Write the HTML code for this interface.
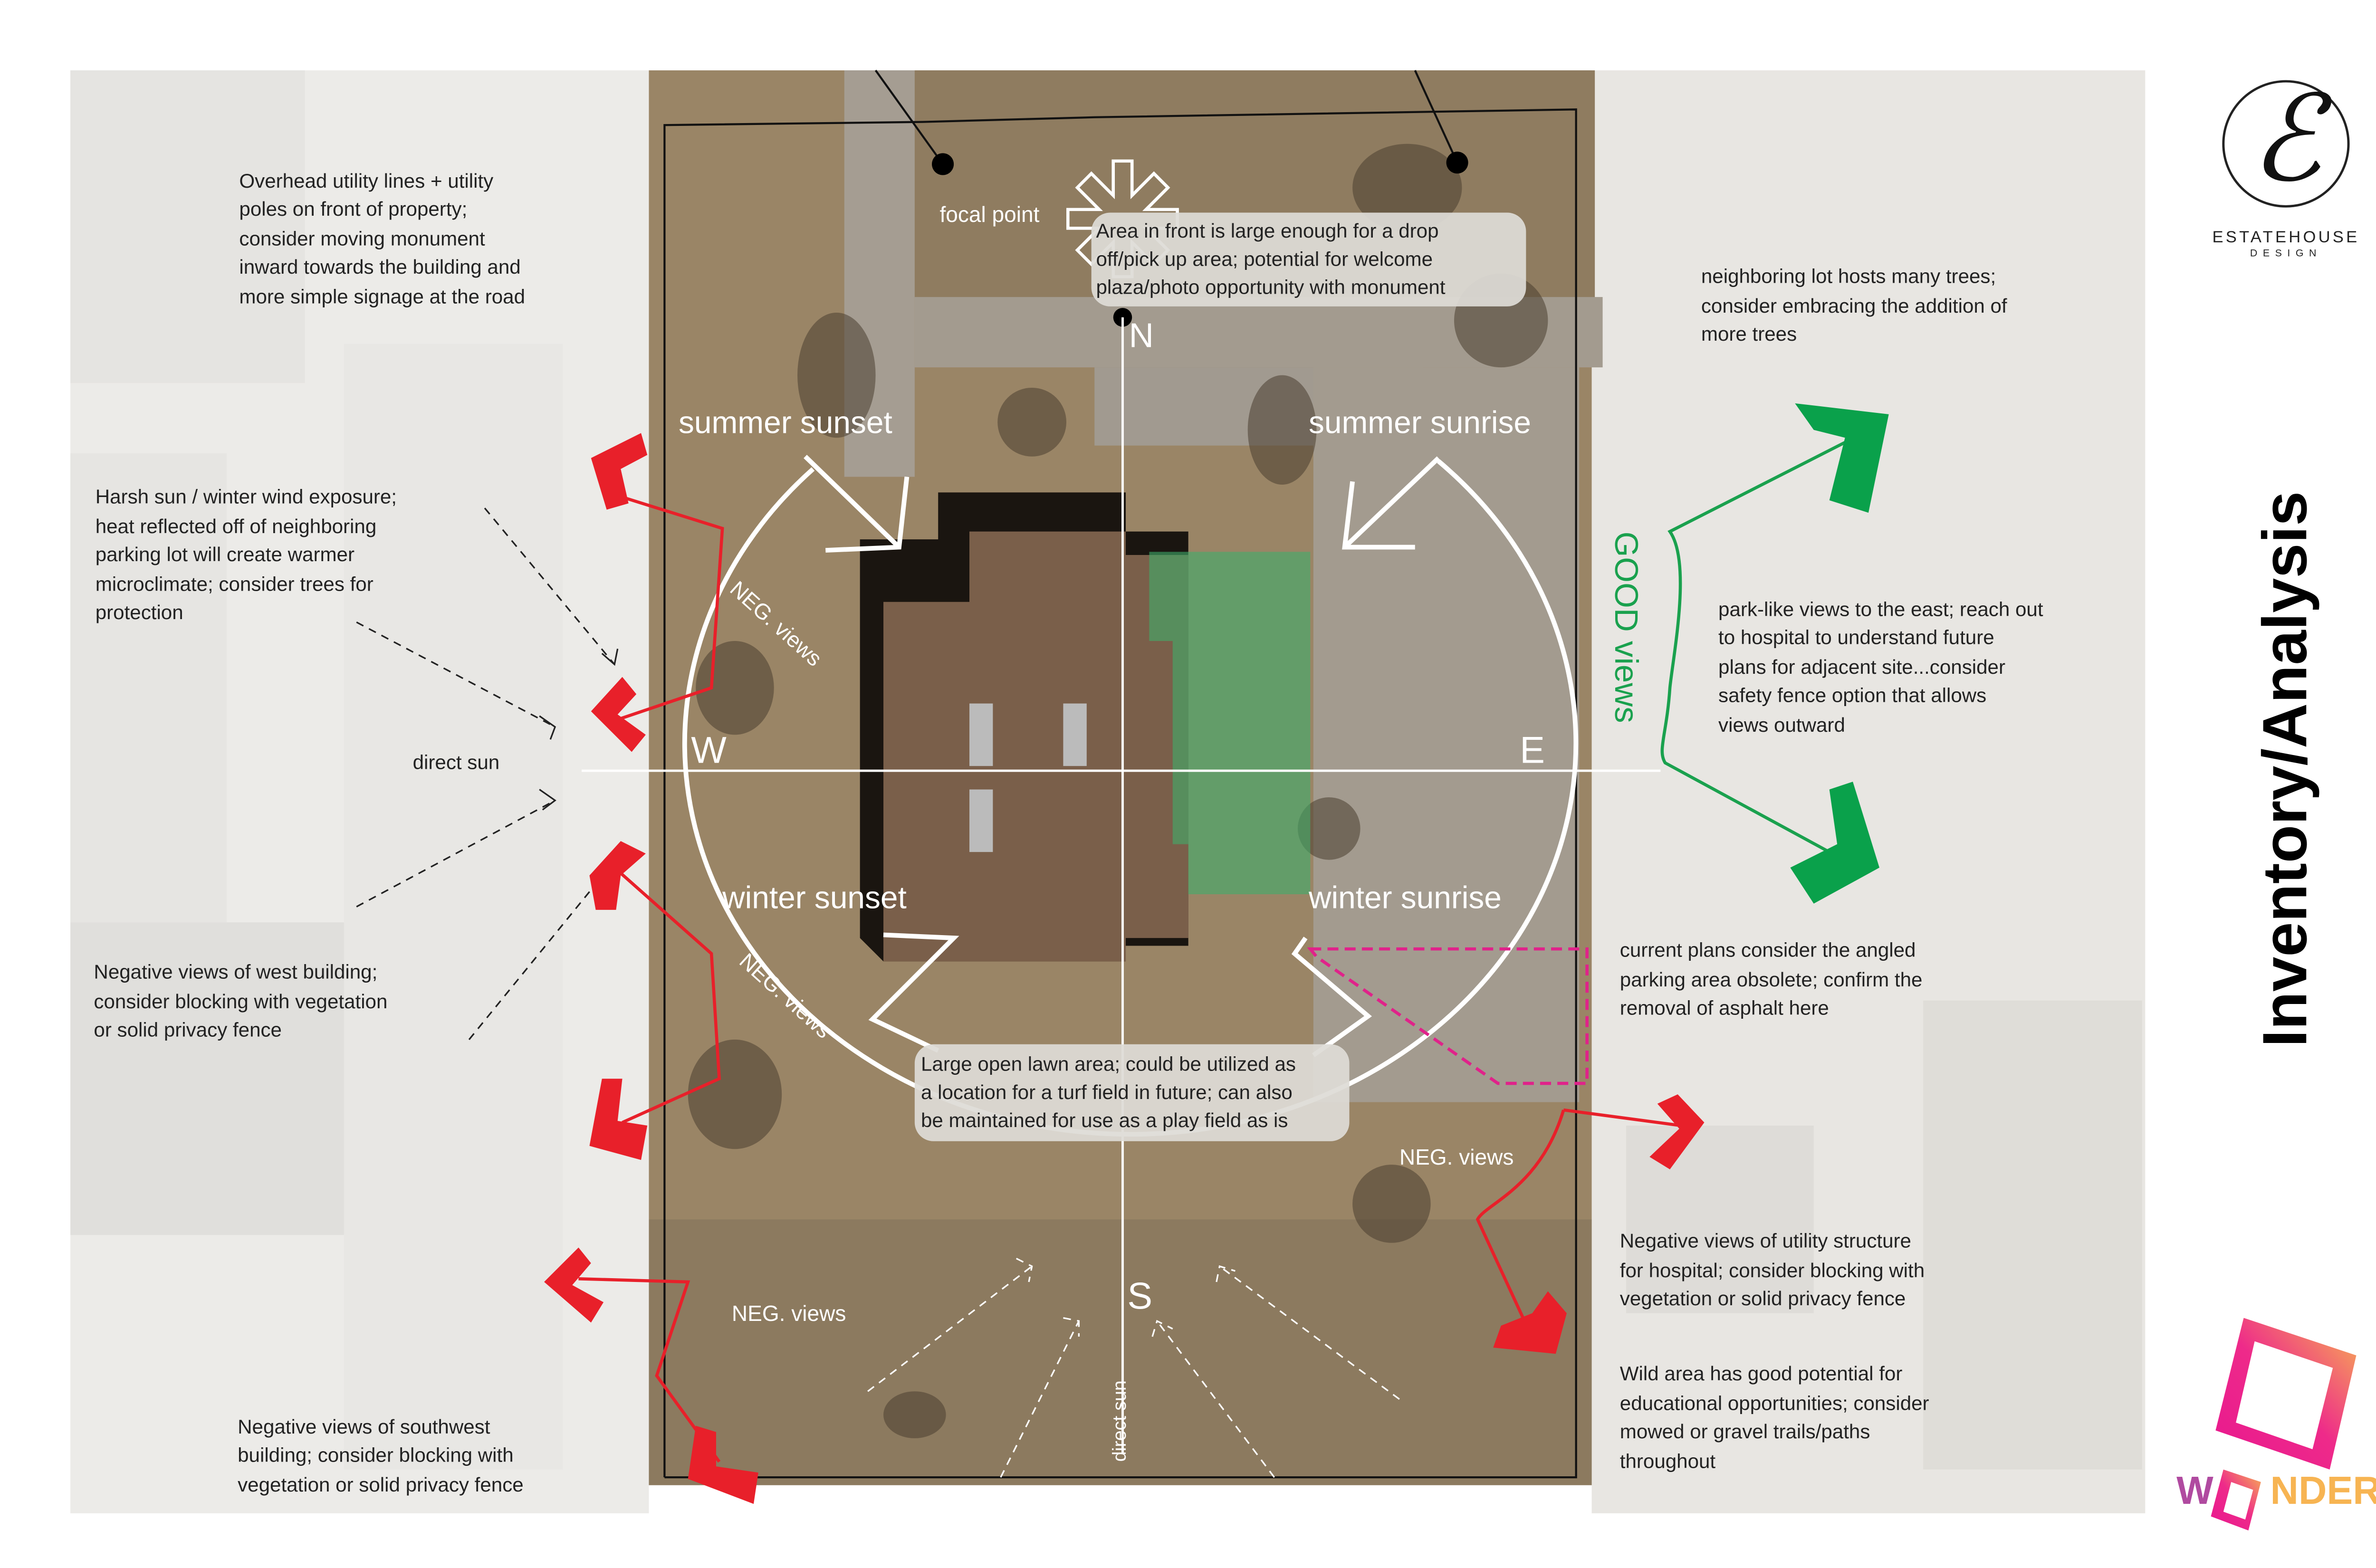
<!DOCTYPE html>
<html><head><meta charset="utf-8"><style>
html,body{margin:0;padding:0;background:#fff;}
svg{display:block;}
text{font-family:"Liberation Sans",sans-serif;}
.n{font-size:12.8px;fill:#222;}
.w{fill:#fff;}
</style></head><body>
<svg width="5100" height="3300" viewBox="0 0 1550 1003" preserveAspectRatio="none" xmlns="http://www.w3.org/2000/svg">
<defs>
<linearGradient id="wg" x1="0" y1="1" x2="1" y2="0">
<stop offset="0" stop-color="#e8178f"/><stop offset="0.5" stop-color="#ee2a8a"/><stop offset="1" stop-color="#f7b452"/></linearGradient>
</defs>
<rect width="1550" height="1003" fill="#fff"/>
<!-- left faded panel -->
<rect x="45" y="45" width="370" height="923" fill="#ecebe8"/>
<rect x="45" y="45" width="150" height="200" fill="#e5e4e1"/>
<rect x="45" y="290" width="100" height="300" fill="#e6e5e2"/>
<rect x="45" y="590" width="200" height="200" fill="#e0dfdc"/>
<rect x="220" y="220" width="140" height="720" fill="#e8e7e4"/>
<!-- right faded panel -->
<rect x="1018" y="45" width="354" height="923" fill="#e8e6e2"/>
<rect x="1040" y="720" width="120" height="120" fill="#dedcd8"/>
<rect x="1230" y="640" width="140" height="300" fill="#dfddd8"/>
<!-- center aerial -->
<rect x="415" y="45" width="603" height="905" fill="#9a8566"/>
<rect x="585" y="45" width="435" height="160" fill="#8f7c60"/>
<rect x="540" y="45" width="45" height="260" fill="#a59d92"/>
<rect x="585" y="190" width="440" height="45" fill="#a39b8f"/>
<rect x="700" y="235" width="210" height="50" fill="#a19a90"/>
<rect x="840" y="235" width="170" height="470" fill="#a39b8f"/>
<rect x="415" y="780" width="603" height="170" fill="#8c7a5f"/>
<!-- trees -->
<g fill="#4a3e30" opacity="0.55">
<ellipse cx="535" cy="240" rx="25" ry="40"/><ellipse cx="900" cy="120" rx="35" ry="28"/>
<ellipse cx="960" cy="205" rx="30" ry="30"/><ellipse cx="820" cy="275" rx="22" ry="35"/>
<ellipse cx="660" cy="270" rx="22" ry="22"/><ellipse cx="470" cy="700" rx="30" ry="35"/>
<ellipse cx="890" cy="770" rx="25" ry="25"/><ellipse cx="585" cy="905" rx="20" ry="15"/>
<ellipse cx="470" cy="440" rx="25" ry="30"/><ellipse cx="850" cy="530" rx="20" ry="20"/>
</g>
<!-- building -->
<polygon points="550,345 600,345 600,315 720,315 720,340 760,340 760,605 720,605 720,615 565,615 550,600" fill="#1a1510"/>
<polygon points="565,385 620,385 620,340 720,340 720,355 760,355 760,600 720,600 720,615 565,615" fill="#7a5f4a"/>
<rect x="620" y="450" width="15" height="40" fill="#bbb"/><rect x="680" y="450" width="15" height="40" fill="#bbb"/>
<rect x="620" y="505" width="15" height="40" fill="#bbb"/>
<!-- green zone -->
<polygon points="735,353 838,353 838,572 760,572 760,540 750,540 750,410 735,410" fill="#3fae6a" opacity="0.6"/>
<!-- property line -->
<polyline points="425,945 425,80 590,78 700,75 1008,70 1008,945 425,945" fill="none" stroke="#111" stroke-width="1.3"/>
<line x1="560" y1="45" x2="603" y2="105" stroke="#111" stroke-width="1.3"/>
<line x1="905" y1="45" x2="932" y2="104" stroke="#111" stroke-width="1.3"/>
<circle cx="603" cy="105" r="7" fill="#000"/><circle cx="932" cy="104" r="7" fill="#000"/><circle cx="718" cy="203" r="6" fill="#000"/>
<!-- focal asterisk -->
<g fill="none" stroke="#fff" stroke-width="2">
<path d="M712,103 h12 v22 l14,-14 l9,9 l-14,14 h20 v12 h-20 l14,14 l-9,9 l-14,-14 v22 h-12 v-22 l-14,14 l-9,-9 l14,-14 h-20 v-12 h20 l-14,-14 l9,-9 l14,14 z"/>
</g>
<text x="601" y="142" class="w" font-size="14">focal point</text>
<!-- text box top -->
<rect x="698" y="136" width="278" height="60" rx="12" fill="#dedbd6" opacity="0.93"/>
<text class="n" font-size="13.5"><tspan x="701" y="152">Area in front is large enough for a drop</tspan><tspan x="701" y="170">off/pick up area; potential for welcome</tspan><tspan x="701" y="188">plaza/photo opportunity with monument</tspan></text>
<!-- axes -->
<line x1="718" y1="203" x2="718" y2="930" stroke="#fff" stroke-width="1.5"/>
<line x1="372" y1="493" x2="1062" y2="493" stroke="#fff" stroke-width="1.5"/>
<text x="722" y="222" class="w" font-size="22">N</text>
<text x="442" y="488" class="w" font-size="24">W</text>
<text x="972" y="488" class="w" font-size="24">E</text>
<text x="721" y="837" class="w" font-size="24">S</text>
<!-- big arc -->
<path d="M520,300 A285,250 0 1,0 920,295" fill="none" stroke="#fff" stroke-width="3"/>
<path d="M515,292 L575,350 M580,305 L575,350 L528,352" fill="none" stroke="#fff" stroke-width="3"/>
<path d="M920,293 L860,350 M865,308 L860,350 L905,350" fill="none" stroke="#fff" stroke-width="3"/>
<polyline points="565,598 610,600 558,652 600,672" fill="none" stroke="#fff" stroke-width="3"/>
<polyline points="835,600 828,610 875,650 840,675" fill="none" stroke="#fff" stroke-width="3"/>
<text x="434" y="277" class="w" font-size="20">summer sunset</text>
<text x="837" y="277" class="w" font-size="20">summer sunrise</text>
<text x="462" y="581" class="w" font-size="20">winter sunset</text>
<text x="837" y="581" class="w" font-size="20">winter sunrise</text>
<text x="0" y="0" class="w" font-size="14" transform="translate(466,378) rotate(42)">NEG. views</text>
<text x="0" y="0" class="w" font-size="14" transform="translate(472,616) rotate(42)">NEG. views</text>
<text x="895" y="745" class="w" font-size="14">NEG. views</text>
<text x="468" y="845" class="w" font-size="14">NEG. views</text>
<text x="0" y="0" class="w" font-size="12" transform="translate(720,935) rotate(-90)">direct sun</text>
<!-- bottom text box -->
<rect x="585" y="668" width="278" height="62" rx="12" fill="#dedbd6" opacity="0.93"/>
<text class="n" font-size="13.5"><tspan x="589" y="685">Large open lawn area; could be utilized as</tspan><tspan x="589" y="703">a location for a turf field in future; can also</tspan><tspan x="589" y="721">be maintained for use as a play field as is</tspan></text>
<!-- magenta dashed -->
<polygon points="838,607 1015,607 1015,693 958,693 842,612" fill="none" stroke="#e0228a" stroke-width="2" stroke-dasharray="7,4"/>
<!-- white dashed -->
<g stroke="#fff" stroke-width="1" stroke-dasharray="5,4" fill="none">
<line x1="555" y1="890" x2="660" y2="810"/><line x1="640" y1="945" x2="690" y2="845"/>
<line x1="815" y1="945" x2="740" y2="845"/><line x1="895" y1="895" x2="780" y2="810"/>
<path d="M650,805 l10,5 -2,10"/><path d="M680,843 l10,2 0,10"/><path d="M737,855 l3,-10 10,5"/><path d="M778,820 l2,-10 10,3"/>
</g>
<!-- black dashed left -->
<g stroke="#222" stroke-width="1" stroke-dasharray="5,4" fill="none">
<line x1="310" y1="325" x2="393" y2="425"/><line x1="228" y1="398" x2="355" y2="465"/>
<line x1="228" y1="580" x2="355" y2="512"/><line x1="300" y1="665" x2="392" y2="552"/>
<path d="M385,418 l8,7 2,-10" stroke-dasharray="none"/><path d="M345,458 l10,7 -3,8" stroke-dasharray="none"/>
<path d="M345,505 l10,7 -8,6" stroke-dasharray="none"/>
</g>
<text x="264" y="492" class="n" font-size="12.5">direct sun</text>
<!-- red lines -->
<g stroke="#e8202a" stroke-width="2" fill="none">
<polyline points="398,318 462,338 455,440 390,462"/>
<polyline points="393,555 455,610 460,690 398,718"/>
<polyline points="370,818 440,820 420,880 460,935"/>
<path d="M1000,710 L1075,720 M1000,710 C985,760 950,770 945,780 L975,845"/>
</g>
<!-- red chevrons -->
<g fill="#e8202a">
<path d="M378,293 L410,277 L414,291 L397,300 L402,322 L388,326 Z"/>
<path d="M378,455 L398,433 L407,444 L395,457 L413,470 L404,481 Z"/>
<path d="M377,560 L397,538 L413,546 L397,560 L394,582 L381,582 Z"/>
<path d="M377,733 L385,690 L398,690 L395,717 L414,720 L410,742 Z"/>
<path d="M348,820 L370,798 L378,808 L366,822 L386,833 L378,846 Z"/>
<path d="M440,946 L445,912 L458,916 L458,938 L485,942 L482,962 Z"/>
<path d="M1090,718 L1073,700 L1060,706 L1074,722 L1055,740 L1068,748 Z"/>
<path d="M1002,840 L990,826 L980,840 L960,848 L955,862 L995,866 Z"/>
</g>
<!-- green -->
<g stroke="#1aa14e" stroke-width="2" fill="none">
<path d="M1180,283 L1068,340 C1082,360 1070,420 1068,440 C1066,470 1060,480 1065,488 L1170,545"/>
</g>
<g fill="#0aa14b">
<path d="M1208,265 L1148,258 L1160,275 L1180,280 L1170,320 L1195,328 Z"/>
<path d="M1202,555 L1185,500 L1170,505 L1175,540 L1145,555 L1160,578 Z"/>
</g>
<text x="0" y="0" font-size="21" fill="#1aa14e" transform="translate(1033,340) rotate(90)">GOOD views</text>
<!-- notes -->
<text class="n"><tspan x="153" y="120">Overhead utility lines + utility</tspan><tspan x="153" y="138">poles on front of property;</tspan><tspan x="153" y="157">consider moving monument</tspan><tspan x="153" y="175">inward towards the building and</tspan><tspan x="153" y="194">more simple signage at the road</tspan></text>
<text class="n"><tspan x="61" y="322">Harsh sun / winter wind exposure;</tspan><tspan x="61" y="341">heat reflected off of neighboring</tspan><tspan x="61" y="359">parking lot will create warmer</tspan><tspan x="61" y="378">microclimate; consider trees for</tspan><tspan x="61" y="396">protection</tspan></text>
<text class="n"><tspan x="60" y="626">Negative views of west building;</tspan><tspan x="60" y="645">consider blocking with vegetation</tspan><tspan x="60" y="663">or solid privacy fence</tspan></text>
<text class="n"><tspan x="152" y="917">Negative views of southwest</tspan><tspan x="152" y="935">building; consider blocking with</tspan><tspan x="152" y="954">vegetation or solid privacy fence</tspan></text>
<text class="n"><tspan x="1088" y="181">neighboring lot hosts many trees;</tspan><tspan x="1088" y="200">consider embracing the addition of</tspan><tspan x="1088" y="218">more trees</tspan></text>
<text class="n"><tspan x="1099" y="394">park-like views to the east; reach out</tspan><tspan x="1099" y="412">to hospital to understand future</tspan><tspan x="1099" y="431">plans for adjacent site...consider</tspan><tspan x="1099" y="449">safety fence option that allows</tspan><tspan x="1099" y="468">views outward</tspan></text>
<text class="n"><tspan x="1036" y="612">current plans consider the angled</tspan><tspan x="1036" y="631">parking area obsolete; confirm the</tspan><tspan x="1036" y="649">removal of asphalt here</tspan></text>
<text class="n"><tspan x="1036" y="798">Negative views of utility structure</tspan><tspan x="1036" y="817">for hospital; consider blocking with</tspan><tspan x="1036" y="835">vegetation or solid privacy fence</tspan></text>
<text class="n"><tspan x="1036" y="883">Wild area has good potential for</tspan><tspan x="1036" y="902">educational opportunities; consider</tspan><tspan x="1036" y="920">mowed or gravel trails/paths</tspan><tspan x="1036" y="939">throughout</tspan></text>
<!-- logo -->
<circle cx="1462" cy="92" r="40" fill="none" stroke="#222" stroke-width="1.5"/>
<text x="1462" y="115" text-anchor="middle" font-style="italic" font-size="76" fill="#111" style="font-family:'Liberation Serif',serif">&#8496;</text>
<text x="1462" y="155" text-anchor="middle" font-size="10.5" letter-spacing="1.6" fill="#222">ESTATEHOUSE</text>
<text x="1462" y="164" text-anchor="middle" font-size="6.5" letter-spacing="3.5" fill="#222">DESIGN</text>
<text x="0" y="0" text-anchor="middle" font-size="40" font-weight="bold" fill="#000" transform="translate(1475,492) rotate(-90)">Inventory/Analysis</text>
<!-- wonder -->
<polygon points="1435,843 1507,867 1490,940 1417,915" fill="url(#wg)"/>
<polygon points="1442,863 1492,880 1479,932 1430,915" fill="#fff" transform="translate(0,-5)"/>
<polygon points="1422,940 1446,948 1438,979 1414,970" fill="url(#wg)"/>
<polygon points="1427,948 1441,953 1436,972 1422,967" fill="#fff"/>
<text x="1392" y="962" font-size="25" font-weight="bold" fill="#b04aa0">W</text>
<text x="1452" y="962" font-size="25" font-weight="bold" fill="#f7b452">NDER</text>
</svg>
</body></html>
